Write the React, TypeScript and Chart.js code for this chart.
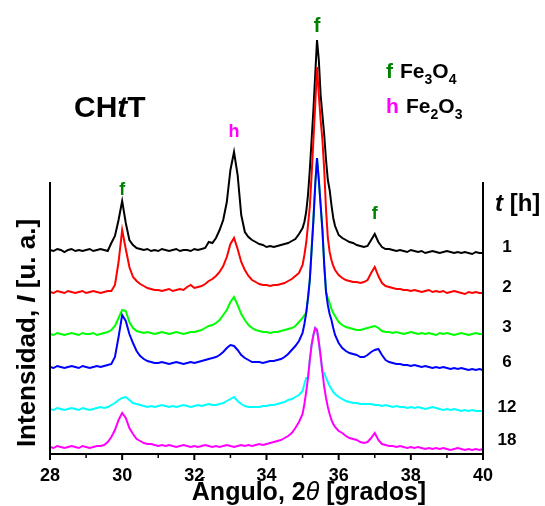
import React, { useEffect, useRef } from 'react';
import { Chart, registerables } from 'chart.js';

Chart.register(...registerables);

// 2θ positions (degrees) shared by every trace
const ANGLES = [
  28.0, 28.1, 28.2, 28.3, 28.4, 28.5, 28.6, 28.7, 28.8, 28.9,
  29.0, 29.1, 29.2, 29.3, 29.4, 29.5, 29.6, 29.7, 29.8, 29.9,
  30.0, 30.1, 30.2, 30.3, 30.4, 30.5, 30.6, 30.7, 30.8, 30.9,
  31.0, 31.1, 31.2, 31.3, 31.4, 31.5, 31.6, 31.7, 31.8, 31.9,
  32.0, 32.1, 32.2, 32.3, 32.4, 32.5, 32.6, 32.7, 32.8, 32.9,
  33.0, 33.1, 33.2, 33.3, 33.4, 33.5, 33.6, 33.7, 33.8, 33.9,
  34.0, 34.1, 34.2, 34.3, 34.4, 34.5, 34.6, 34.7, 34.8, 34.9,
  35.0, 35.05, 35.1, 35.15, 35.2, 35.25, 35.3, 35.35, 35.4, 35.45,
  35.5, 35.55, 35.6, 35.65, 35.7, 35.75, 35.8, 35.85, 35.9,
  36.0, 36.1, 36.2, 36.3, 36.4, 36.5, 36.6, 36.7, 36.8, 36.9,
  37.0, 37.1, 37.2, 37.3, 37.4, 37.5, 37.6, 37.7, 37.8, 37.9,
  38.0, 38.1, 38.2, 38.3, 38.4, 38.5, 38.6, 38.7, 38.8, 38.9,
  39.0, 39.1, 39.2, 39.3, 39.4, 39.5, 39.6, 39.7, 39.8, 39.9,
  40.0,
];

// Stacked (offset) intensities, arbitrary units
const I_1H = [
  204, 203, 205, 204, 202, 204, 205, 203, 204, 203, 204, 205, 203, 204, 205, 204, 203,
  211, 218, 234, 253, 231, 214, 209, 206, 205,
  204, 205, 203, 204, 203, 205, 204, 203, 204, 205, 203, 204, 204, 203, 205, 204, 205,
  206, 212, 211, 216, 224, 234, 252, 284, 302, 279, 239, 222, 217, 214, 212, 210, 209, 207, 208, 207, 208, 209, 210, 211, 213, 215, 220,
  226, 232, 242, 259, 284, 314, 344, 379, 414, 394, 359, 339, 319, 294, 274, 264, 249, 236, 228,
  219, 216, 214, 212, 211, 209, 208, 207, 208, 214, 220, 212, 207, 205, 205,
  204, 203, 204, 203, 202, 204, 203, 202, 203, 201, 202, 203, 202, 201, 202, 203, 202, 201, 202, 201, 202, 201, 200, 202, 201, 201,
];

const I_2H = [
  162, 161, 163, 162, 161, 163, 162, 161, 162, 163, 161, 162, 163, 162, 161, 162, 163, 163,
  169, 192, 224, 205, 187, 177, 173, 170, 168, 166, 165, 164,
  164, 163, 164, 165, 163, 164, 165, 164,
  167, 169, 166, 167, 168, 170, 173, 175, 178, 182, 188, 197, 210, 216, 205, 192, 184, 178, 174, 172, 170, 169, 169, 168, 169, 169, 170, 171, 173, 175, 178, 181,
  189, 199, 211, 229, 247, 279, 314, 349, 387, 359, 334, 314, 284, 244, 216, 202, 194, 188, 184,
  179, 176, 174, 173, 172, 172, 171, 172, 174, 181, 187, 178, 171, 168, 167,
  166, 165, 165, 164,
  164, 163, 164, 163, 162, 163, 164, 162, 163, 162, 163, 161, 162, 163, 162, 161, 160, 162, 161, 162, 161, 161,
];

const I_3H = [
  120, 119, 121, 120, 119, 120, 121, 120, 119, 121, 120, 120, 121, 119, 120, 121, 122,
  124, 128, 136, 144, 143, 132, 126, 123, 122,
  121, 122, 121, 120, 121, 122, 121, 120, 121, 122, 121, 120, 121, 122, 122,
  123, 124, 126, 128, 129, 131, 134, 139, 144, 152, 157, 149, 140, 134, 129, 126, 124, 123, 122, 122, 121, 122, 122, 123, 124, 125, 126, 128, 132,
  136, 139, 141, 156, 174, 204, 234, 269, 296, 274, 249, 224, 189, 162, 156, 151, 145, 141, 138,
  132, 129, 127, 126, 125, 124, 124, 125, 126, 127, 128, 126, 123, 122,
  122, 121, 122, 121, 120, 121, 122, 121, 120, 121, 120, 121, 120, 119, 121, 120, 121, 120, 119, 120, 121, 120, 119, 120, 121, 120, 120,
];

const I_6H = [
  87, 86, 88, 87, 86, 87, 88, 87, 86, 88, 87, 86, 87, 88, 87, 88, 89, 90,
  97, 117, 139, 133, 120, 111, 103, 98, 95, 93, 92, 91,
  91, 92, 91, 90, 91, 92, 91, 90, 91, 92, 91, 92, 93, 94,
  95, 96, 97, 99, 102, 106, 109, 108, 104, 99, 96, 94, 92, 92, 92, 91, 92, 93, 93, 94, 95, 97, 100, 104, 108, 113,
  121, 130, 141, 156, 174, 204, 234, 269, 296, 274, 249, 224, 189, 162, 149, 140, 134, 126, 119,
  111, 106, 103, 101, 100, 99, 97, 97, 99, 102, 104, 105, 99, 94, 92, 91, 90, 90, 89,
  89, 88, 89, 88, 87, 88, 87, 86, 87, 86, 87, 86, 85, 86, 85, 86, 85, 84, 85, 84, 85, 84,
];

const I_12H = [
  45, 44, 46, 45, 44, 45, 46, 45, 44, 46, 45, 44, 45, 46, 47, 46, 47,
  49, 51, 54, 56, 57, 54, 51, 50, 49,
  48, 47, 48, 47, 48, 49, 48, 47, 48, 47, 48, 49, 48, 47, 48, 49, 48, 49, 50, 49,
  49, 50, 51, 53, 55, 57, 53, 50, 48, 47, 47, 47, 47, 48, 48, 49, 49, 50, 51, 52, 54, 55, 57, 59,
  63, 70, 76, 76, 94, 109, 119, 126, 124, 112, 98, 82, 81, 76, 72, 68, 65, 62, 60,
  57, 55, 53, 52, 51, 51, 50, 50, 50, 50, 49, 49,
  48, 49, 48, 47, 48, 47, 47, 46, 47, 46, 47, 46, 45, 46, 47, 46, 45, 44, 45, 44, 45, 44, 43, 44, 43, 44, 43, 43, 43,
];

const I_18H = [
  7, 6, 8, 7, 6, 7, 8, 7, 6, 8, 7, 6, 7, 8, 8, 9,
  12, 17, 24, 34, 41, 36, 26, 20, 15, 13, 11, 10, 10,
  9, 8, 9, 8, 9, 8, 7, 8, 9, 8, 7, 8, 7, 8, 9, 8, 7, 8, 7, 8, 9, 8, 7, 8, 9, 8, 9, 8, 9, 10, 9,
  10, 11, 12, 13, 14, 16, 18, 21, 26, 32,
  40, 50, 62, 76, 94, 109, 119, 126, 124, 112, 98, 82, 67, 56, 47, 40, 34, 30, 27,
  23, 21, 18, 16, 15, 14, 12, 11, 12, 16, 21, 14, 10, 9, 8,
  8, 7, 8, 7, 6, 7, 6, 7, 6, 5, 6, 5, 6, 5, 6, 5, 4, 5, 6, 5, 4, 5, 4, 5, 4, 5,
];

const SERIES = [I_1H, I_2H, I_3H, I_6H, I_12H, I_18H];
const TIME_LABELS = ['1', '2', '3', '6', '12', '18'];
const TIME_LABEL_LEVELS = [202, 162, 122, 87, 42, 9];

const PEAK_LABELS = ['f', 'h', 'f', 'f'];
const PEAK_ANGLES = [30.0, 33.1, 35.4, 37.0];
const PEAK_LEVELS = [259, 317, 422, 235];

const X_MIN = 28;
const X_MAX = 40;
const MAJOR_TICKS = [28, 30, 32, 34, 36, 38, 40];
const MINOR_TICKS = [29, 31, 33, 35, 37, 39];

const FONT = '"Liberation Sans", Arial, Helvetica, sans-serif';
const COLORS = ['#000000', '#ff0000', '#00ff00', '#0000ff', '#00ffff', '#ff00ff'];
const GREEN_LABEL = '#008000';
const MAGENTA_LABEL = '#ff00ff';

type Run = { t: string; f: string; c?: string; dy?: number };

function drawRuns(ctx: CanvasRenderingContext2D, runs: Run[], x: number, y: number, align: 'left' | 'center') {
  let w = 0;
  for (const r of runs) {
    ctx.font = r.f;
    w += ctx.measureText(r.t).width;
  }
  let cx = align === 'center' ? x - w / 2 : x;
  for (const r of runs) {
    ctx.font = r.f;
    ctx.fillStyle = r.c || '#000';
    ctx.fillText(r.t, cx, y + (r.dy || 0));
    cx += ctx.measureText(r.t).width;
  }
}

const bold = (s: number) => `bold ${s}px ${FONT}`;
const boldItalic = (s: number) => `italic bold ${s}px ${FONT}`;
const italic = (s: number) => `italic ${s}px ${FONT}`;

const annotPlugin = {
  id: 'xrdAnnotations',
  afterDraw(chart: any) {
    const ctx: CanvasRenderingContext2D = chart.ctx;
    const { left, right, top, bottom } = chart.chartArea;
    const xs = chart.scales.x;
    const ys = chart.scales.y;
    ctx.save();
    ctx.strokeStyle = '#000';
    ctx.lineWidth = 2;
    ctx.beginPath();
    ctx.moveTo(left, top);
    ctx.lineTo(left, bottom + 1);
    ctx.moveTo(right, top);
    ctx.lineTo(right, bottom + 1);
    ctx.moveTo(left - 1, bottom);
    ctx.lineTo(right + 1, bottom);
    for (const v of MAJOR_TICKS) {
      const px = xs.getPixelForValue(v);
      ctx.moveTo(px, bottom);
      ctx.lineTo(px, bottom + 6);
    }
    ctx.stroke();
    ctx.lineWidth = 1.5;
    ctx.beginPath();
    for (const v of MINOR_TICKS) {
      const px = xs.getPixelForValue(v);
      ctx.moveTo(px, bottom);
      ctx.lineTo(px, bottom + 4);
    }
    ctx.stroke();

    ctx.textBaseline = 'alphabetic';

    // tick labels
    for (const v of MAJOR_TICKS) {
      drawRuns(ctx, [{ t: String(v), f: bold(18) }], xs.getPixelForValue(v), bottom + 27, 'center');
    }

    // sample name
    drawRuns(ctx, [
      { t: 'CH', f: bold(30) },
      { t: 't', f: boldItalic(30) },
      { t: 'T', f: bold(30) },
    ], 74, 117, 'left');

    // phase key
    drawRuns(ctx, [{ t: 'f', f: bold(21), c: GREEN_LABEL }], 386, 78, 'left');
    drawRuns(ctx, [
      { t: 'Fe', f: bold(21) },
      { t: '3', f: bold(14), dy: 6 },
      { t: 'O', f: bold(21) },
      { t: '4', f: bold(14), dy: 6 },
    ], 400, 78, 'left');
    drawRuns(ctx, [{ t: 'h', f: bold(21), c: MAGENTA_LABEL }], 386, 113, 'left');
    drawRuns(ctx, [
      { t: 'Fe', f: bold(21) },
      { t: '2', f: bold(14), dy: 6 },
      { t: 'O', f: bold(21) },
      { t: '3', f: bold(14), dy: 6 },
    ], 406, 113, 'left');

    // peak markers
    PEAK_LABELS.forEach((lab, i) => {
      const px = xs.getPixelForValue(PEAK_ANGLES[i]);
      const py = ys.getPixelForValue(PEAK_LEVELS[i]);
      drawRuns(ctx, [{ t: lab, f: bold(i === 2 ? 20 : 18), c: lab === 'f' ? GREEN_LABEL : MAGENTA_LABEL }], px, py, 'center');
    });

    // time header and labels
    drawRuns(ctx, [
      { t: 't', f: boldItalic(24) },
      { t: ' [h]', f: bold(24) },
    ], right + 12, 211, 'left');
    TIME_LABELS.forEach((lab, i) => {
      const py = ys.getPixelForValue(TIME_LABEL_LEVELS[i]);
      drawRuns(ctx, [{ t: lab, f: bold(17) }], right + 24, py, 'center');
    });

    // x title
    drawRuns(ctx, [
      { t: 'Ángulo, 2', f: bold(25) },
      { t: 'θ', f: italic(25) },
      { t: ' [grados]', f: bold(25) },
    ], 309, 500, 'center');

    // y title
    ctx.translate(35, 333);
    ctx.rotate(-Math.PI / 2);
    drawRuns(ctx, [
      { t: 'Intensidad, ', f: bold(26) },
      { t: 'I', f: boldItalic(26) },
      { t: ' [u. a.]', f: bold(26) },
    ], 0, 0, 'center');
    ctx.restore();
  },
};

export default function App() {
  const ref = useRef<HTMLCanvasElement | null>(null);

  useEffect(() => {
    if (!ref.current) return;
    const datasets = SERIES.map((vals, i) => ({
      label: TIME_LABELS[i] + ' h',
      data: ANGLES.map((a, k) => ({ x: a, y: vals[k] })),
      borderColor: COLORS[i],
      backgroundColor: COLORS[i],
      borderWidth: 2,
      pointRadius: 0,
      tension: 0,
      fill: false,
      clip: false as any,
      order: SERIES.length - 1 - i,
    }));
    const chart = new Chart(ref.current, {
      type: 'line',
      data: { datasets },
      options: {
        animation: false,
        responsive: false,
        maintainAspectRatio: false,
        devicePixelRatio: 1,
        layout: { padding: { left: 50, right: 62, top: 182, bottom: 52 } },
        plugins: { legend: { display: false }, tooltip: { enabled: false }, title: { display: false } },
        scales: {
          x: { type: 'linear', display: false, min: X_MIN, max: X_MAX },
          y: { display: false, min: 0, max: 272 },
        },
      } as any,
      plugins: [annotPlugin],
    });
    return () => chart.destroy();
  }, []);

  return (
    <div style={{ position: 'absolute', left: 0, top: 0, width: 545, height: 506, background: '#fff' }}>
      <canvas ref={ref} width={545} height={506} style={{ display: 'block' }} />
    </div>
  );
}
